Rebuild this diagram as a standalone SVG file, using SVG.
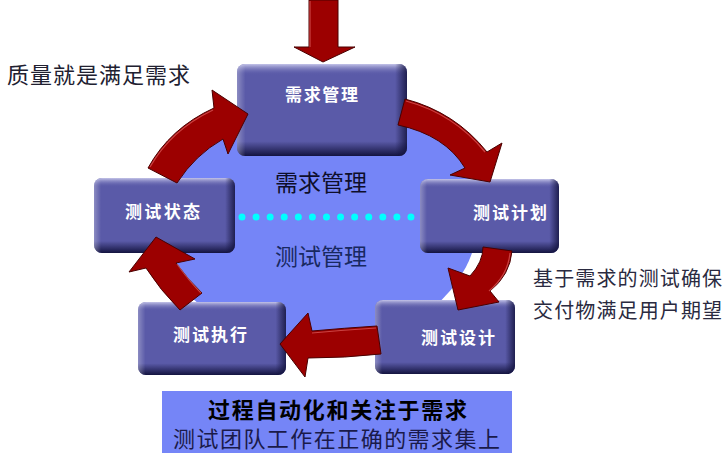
<svg xmlns="http://www.w3.org/2000/svg" width="728" height="460" viewBox="0 0 728 460">
<defs>
<style>
text{font-family:"Noto Sans CJK SC","Noto Sans",sans-serif;}
.box{fill:#5a5aa8;}
.bv{fill:url(#bv);}
.bh{fill:url(#bh);}
.bt{fill:#ffffff;font-size:17px;font-weight:bold;text-anchor:middle;}
.arr{fill:#9c0000;stroke:#4a0000;stroke-width:1;stroke-linejoin:miter;}
.hl{fill:none;stroke:#e06060;stroke-width:1.2;stroke-opacity:0.7;}
</style>
<linearGradient id="bv" x1="0" y1="0" x2="0" y2="1">
<stop offset="0" stop-color="#d0d0f0" stop-opacity="0.9"/>
<stop offset="0.12" stop-color="#5a5aa8" stop-opacity="0"/>
<stop offset="0.84" stop-color="#10103a" stop-opacity="0"/>
<stop offset="1" stop-color="#10103a" stop-opacity="0.95"/>
</linearGradient>
<linearGradient id="bh" x1="0" y1="0" x2="1" y2="0">
<stop offset="0" stop-color="#ffffff" stop-opacity="0.3"/>
<stop offset="0.05" stop-color="#ffffff" stop-opacity="0"/>
<stop offset="0.93" stop-color="#10103a" stop-opacity="0"/>
<stop offset="1" stop-color="#10103a" stop-opacity="0.8"/>
</linearGradient>
</defs>
<rect width="728" height="460" fill="#ffffff"/>

<ellipse cx="318" cy="218" rx="160" ry="129" fill="#7585f7"/>
<line x1="242" y1="217" x2="411" y2="217" stroke="#00ffff" stroke-width="7" stroke-linecap="round" stroke-dasharray="0 14.08"/>
<text x="321" y="190.5" font-size="23" fill="#0e0e2a" text-anchor="middle">需求管理</text>
<text x="321" y="264.5" font-size="23" fill="#182860" text-anchor="middle">测试管理</text>

<text x="7" y="83" font-size="22" fill="#202030" textLength="183" lengthAdjust="spacing">质量就是满足需求</text>
<text x="533" y="285.5" font-size="20" fill="#2a2a40" textLength="189" lengthAdjust="spacing">基于需求的测试确保</text>
<text x="533" y="317.5" font-size="20" fill="#2a2a40" textLength="189" lengthAdjust="spacing">交付物满足用户期望</text>

<g id="node-req">
<rect class="box" x="237" y="64" width="170" height="92" rx="8"/>
<rect class="bv" x="237" y="64" width="170" height="92" rx="8"/>
<rect class="bh" x="237" y="64" width="170" height="92" rx="8"/>
<text class="bt" x="321.5" y="101" textLength="73" lengthAdjust="spacing">需求管理</text>
</g>
<g id="node-plan">
<rect class="box" x="420" y="179" width="139" height="74" rx="8"/>
<rect class="bv" x="420" y="179" width="139" height="74" rx="8"/>
<rect class="bh" x="420" y="179" width="139" height="74" rx="8"/>
<text class="bt" x="510" y="219" textLength="74" lengthAdjust="spacing">测试计划</text>
</g>
<g id="node-design">
<rect class="box" x="375" y="300" width="140" height="74" rx="8"/>
<rect class="bv" x="375" y="300" width="140" height="74" rx="8"/>
<rect class="bh" x="375" y="300" width="140" height="74" rx="8"/>
<text class="bt" x="458" y="344" textLength="74" lengthAdjust="spacing">测试设计</text>
</g>
<g id="node-exec">
<rect class="box" x="138" y="302" width="148" height="73" rx="8"/>
<rect class="bv" x="138" y="302" width="148" height="73" rx="8"/>
<rect class="bh" x="138" y="302" width="148" height="73" rx="8"/>
<text class="bt" x="210" y="341" textLength="74" lengthAdjust="spacing">测试执行</text>
</g>
<g id="node-status">
<rect class="box" x="94" y="178" width="141" height="75" rx="8"/>
<rect class="bv" x="94" y="178" width="141" height="75" rx="8"/>
<rect class="bh" x="94" y="178" width="141" height="75" rx="8"/>
<text class="bt" x="162.5" y="218" textLength="75" lengthAdjust="spacing">测试状态</text>
</g>

<g id="connectors">
<path class="arr" d="M309,0 L338,0 L338,47 L355,47 L323,62 L294,47 L309,47 Z"/>
<path class="hl" d="M310,1 L310,47"/>
<path class="arr" d="M405,99 Q455,112 487,152 L502,143 L490,182 L450,175 L465,168 Q445,135 398,125 Z"/>
<path class="hl" d="M406,101 Q454,114 485,152"/>
<path class="arr" d="M483,247 L512,251 Q510,275 490,291 L499,302 L458,310 L448,268 L470,276 Q483,262 483,247 Z"/>
<path class="hl" d="M510,253 Q508,275 489,291"/>
<path class="arr" d="M377,326 Q345,328 312,331 L308,313 L280,344 L305,377 L308,358 Q345,358 381,354 Z"/>
<path class="hl" d="M376,328 Q345,330 312,333"/>
<path class="arr" d="M180,310 Q160,290 146,268 L129,272 L156,237 L195,259 L176,263 Q188,280 202,293 Z"/>
<path class="hl" d="M177,264 Q189,281 201,293"/>
<path class="arr" d="M148,168 Q170,128 214,108 L212,90 L248,114 L228,154 L223,139 Q195,155 177,183 Z"/>
<path class="hl" d="M150,167 Q171,130 213,110"/>
</g>

<g id="note-bottom">
<rect x="162" y="391" width="350" height="62" fill="#7585f7"/>
<text x="337.5" y="418" font-size="22" font-weight="bold" fill="#000000" text-anchor="middle" textLength="259" lengthAdjust="spacing">过程自动化和关注于需求</text>
<text x="336.5" y="447" font-size="22" fill="#1a1a4a" text-anchor="middle" textLength="327" lengthAdjust="spacing">测试团队工作在正确的需求集上</text>
</g>
</svg>
